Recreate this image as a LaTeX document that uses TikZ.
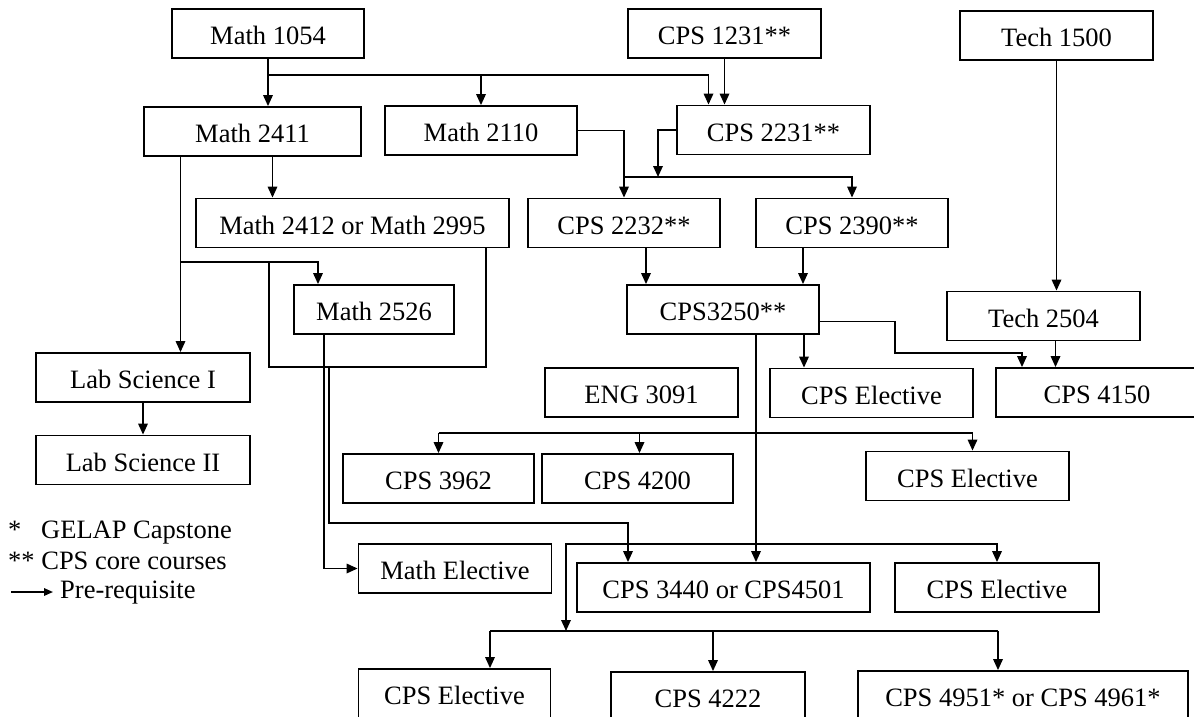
\documentclass[tikz,border=0pt]{standalone}
\usepackage{fontspec}
\setmainfont{Liberation Serif}
\usetikzlibrary{arrows.meta}

\begin{document}
\begin{tikzpicture}[x=1pt,y=-1pt,font=\fontsize{26.5}{30}\selectfont,
	course/.style={draw, line width=1.8pt, minimum height=49pt, inner sep=0pt, text height=23pt, text depth=0.5pt},
	pre/.style={line width=1.7pt, -{Triangle[length=11pt,width=9.5pt]}},
	link/.style={line width=1.7pt}]
	\useasboundingbox (0,0) rectangle (1194,717);
	% first rows
	\node[course, minimum width=192pt] (m1054) at (268,33.5) {Math 1054};
	\node[course, minimum width=193pt] (c1231) at (724.5,33.5) {CPS 1231**};
	\node[course, minimum width=193pt] (t1500) at (1056.5,35.5) {Tech 1500};
	\node[course, minimum width=217pt] (m2411) at (252.5,131.5) {Math 2411};
	\node[course, minimum width=192pt] (m2110) at (481,130.5) {Math 2110};
	\node[course, minimum width=193pt] (c2231) at (773.5,130) {CPS 2231**};
	\node[course, minimum width=313pt] (m2412) at (352.5,223) {Math 2412 or Math 2995};
	\node[course, minimum width=192pt] (c2232) at (624,223) {CPS 2232**};
	\node[course, minimum width=192pt] (c2390) at (852,223) {CPS 2390**};
	\node[course, minimum width=160pt] (m2526) at (374,309.5) {Math 2526};
	\node[course, minimum width=192pt] (c3250) at (723,309.5) {CPS3250**};
	\node[course, minimum width=193pt] (t2504) at (1043.5,316) {Tech 2504};
	% middle rows
	\node[course, minimum width=214pt] (lab1) at (143,377.5) {Lab Science I};
	\node[course, minimum width=214pt] (lab2) at (143,460) {Lab Science II};
	\node[course, minimum width=193pt] (eng) at (641.5,392.5) {ENG 3091};
	\node[course, minimum width=203pt] (cel1) at (871.5,393) {CPS Elective};
	\node[course, minimum width=202pt] (c4150) at (1097,392.5) {CPS 4150};
	\node[course, minimum width=191pt] (c3962) at (438.5,478.5) {CPS 3962};
	\node[course, minimum width=191pt] (c4200) at (637.5,478.5) {CPS 4200};
	\node[course, minimum width=203pt] (cel2) at (967.5,476) {CPS Elective};
	% lower rows
	\node[course, minimum width=193pt] (mathel) at (455,568.5) {Math Elective};
	\node[course, minimum width=293pt] (c3440) at (723.5,587.5) {CPS 3440 or CPS4501};
	\node[course, minimum width=204pt] (cel3) at (997,587.5) {CPS Elective};
	\node[course, minimum width=192pt] (cel4) at (454.5,693.5) {CPS Elective};
	\node[course, minimum width=194pt] (c4222) at (708,696.5) {CPS 4222};
	\node[course, minimum width=330pt] (c4951) at (1023,695.5) {CPS 4951* or CPS 4961*};
	% legend
	\node[anchor=base west, inner sep=0pt] (star) at (8,538) {*};
	\node[anchor=base west, inner sep=0pt] (gelap) at (41,538) {GELAP Capstone};
	\node[anchor=base west, inner sep=0pt] (core) at (8,569) {** CPS core courses};
	\node[anchor=base west, inner sep=0pt] (prereq) at (60,598) {Pre-requisite};
	\coordinate (lgd) at (11,592);
	\draw[line width=1.6pt, -{Triangle[length=9pt,width=7.5pt]}] (lgd) -- ([xshift=-7]prereq.west |- lgd);
	% Math 1054 and CPS 1231
	\coordinate (j1054) at (268,75);
	\draw[pre] (m1054.south) -- (m1054.south |- m2411.north);
	\draw[pre] (j1054) -| (m2110.north);
	\draw[pre] (j1054) -| ([xshift=-65]c2231.north);
	\draw[pre] (c1231.south) -- (c1231.south |- c2231.north);
	% Math 2411, 2412, 2526
	\draw[pre] ([xshift=20]m2411.south) -- ([xshift=20]m2411.south |- m2412.north);
	\draw[pre] ([xshift=-72]m2411.south) -- ([xshift=-72]m2411.south |- lab1.north);
	\coordinate (j2411) at (180,262);
	\draw[pre] (j2411) -| ([xshift=-56]m2526.north);
	\coordinate (j2412) at (269,367);
	\draw[link] ([xshift=133.5]m2412.south) |- (j2412) -- (j2412 |- j2411);
	\coordinate (j3440) at (329,367);
	\draw[pre] (j3440) -- ++(0,156) -| ([xshift=-95.5]c3440.north);
	\draw[pre] ([xshift=-50]m2526.south) |- (mathel.west);
	\draw[pre] (lab1) -- (lab2);
	% Math 2110 and CPS 2231
	\draw[pre] (m2110.east) -| (c2232.north);
	\coordinate (j2232) at (624,177);
	\coordinate (j2231) at (658,177);
	\draw[pre] (j2232) -| (c2390.north);
	\draw[pre] (c2231.west) -| (j2231);
	\draw[pre] ([xshift=22]c2232.south) -- ([xshift=22]c2232.south |- c3250.north);
	\draw[pre] ([xshift=-49]c2390.south) -- ([xshift=-49]c2390.south |- c3250.north);
	% CPS3250 and Tech
	\draw[pre] ([xshift=81]c3250.south) -- ([xshift=81]c3250.south |- cel1.north);
	\coordinate (j4150) at (895,353);
	\draw[pre] ([yshift=-12]c3250.east) -| (j4150) -| ([xshift=-75]c4150.north);
	\draw[pre] (t1500.south) -- (t1500.south |- t2504.north);
	\draw[pre] ([xshift=12]t2504.south) -- ([xshift=12]t2504.south |- c4150.north);
	\draw[pre] ([xshift=33]c3250.south) -- ([xshift=33]c3250.south |- c3440.north);
	\coordinate (jmid) at (756,433);
	\draw[link] (c3962.north |- jmid) -- ([xshift=5]cel2.north |- jmid);
	\draw[pre] (c3962.north |- jmid) -- (c3962.north);
	\draw[pre] ([xshift=2]c4200.north |- jmid) -- ([xshift=2]c4200.north);
	\draw[pre] ([xshift=5]cel2.north |- jmid) -- ([xshift=5]cel2.north);
	% last rows
	\coordinate (jlow) at (756,544);
	\coordinate (jcap) at (566,631);
	\draw[pre] (jlow) -| (cel3.north);
	\draw[pre] (jlow) -| (jcap);
	\draw[link] ([xshift=35.5]cel4.north |- jcap) -- ([xshift=-25]c4951.north |- jcap);
	\draw[pre] ([xshift=35.5]cel4.north |- jcap) -- ([xshift=35.5]cel4.north);
	\draw[pre] ([xshift=5]c4222.north |- jcap) -- ([xshift=5]c4222.north);
	\draw[pre] ([xshift=-25]c4951.north |- jcap) -- ([xshift=-25]c4951.north);
\end{tikzpicture}
\end{document}
